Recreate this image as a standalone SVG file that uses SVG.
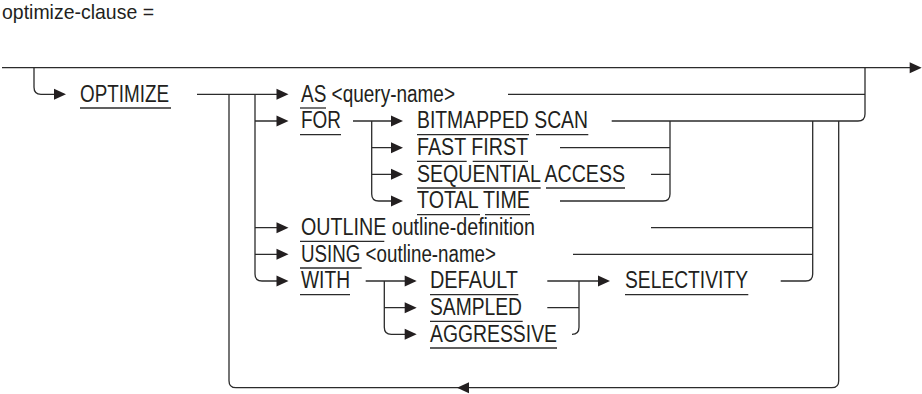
<svg xmlns="http://www.w3.org/2000/svg" width="922" height="394" viewBox="0 0 922 394">
<style>
.t{font-family:"Liberation Sans",Arial,Helvetica,sans-serif;font-size:23px;fill:#231f20}
.ttl{font-family:"Liberation Sans",Arial,Helvetica,sans-serif;font-size:21px;fill:#231f20}
.c{fill:none;stroke:#2b2b2b;stroke-width:1.3}
.u{stroke:#2b2b2b;stroke-width:1.3}
.ah{fill:#231f20}
</style>
<defs>
<path id="ar" d="M-12,-5.5 L0,0 L-12,5.5 z"/>
</defs>
<rect width="922" height="394" fill="#fff"/>
<g id="title"><text class="ttl" x="2" y="19" textLength="152" lengthAdjust="spacingAndGlyphs">optimize-clause =</text></g>

<g id="connectors">
<path class="c" d="M2,67.7 H910"/>
<path class="c" d="M34,67.7 V87.3 Q34,94.3 41,94.3 H64"/>
<path class="c" d="M197,94.3 H286"/>
<path class="c" d="M229,94.3 V380.7 Q229,387.7 236,387.7 H831.7 Q838.7,387.7 838.7,380.7 V121"/>
<path class="c" d="M255,94.3 V274 Q255,281 262,281 H286"/>
<path class="c" d="M255,121 H286 M255,227.7 H286 M255,254.3 H286"/>
<path class="c" d="M508,94.3 H865"/>
<path class="c" d="M353,121 H401"/>
<path class="c" d="M371.7,121 V194 Q371.7,201 378.7,201 H401 M371.7,147.7 H401 M371.7,174.3 H401"/>
<path class="c" d="M611.7,121 H858 Q865,121 865,114 V67.7"/>
<path class="c" d="M560,147.7 H670 M651,174.3 H670"/>
<path class="c" d="M560,201 H663 Q670,201 670,194 V121"/>
<path class="c" d="M651,227.7 H812.7 M573,254.3 H812.7"/>
<path class="c" d="M780.7,281 H805.7 Q812.7,281 812.7,274 V121"/>
<path class="c" d="M365.7,281 H414.7"/>
<path class="c" d="M384.3,281 V327.3 Q384.3,334.3 391.3,334.3 H414.7 M384.3,307.7 H414.7"/>
<path class="c" d="M547.3,281 H608"/>
<path class="c" d="M579,281 V327.3 Q579,334.3 572,334.3 M547.3,307.7 H579"/>
<use href="#ar" class="ah" transform="translate(921.7,67.7)"/>
<use href="#ar" class="ah" transform="translate(66,94.3)"/>
<use href="#ar" class="ah" transform="translate(288.5,94.3)"/>
<use href="#ar" class="ah" transform="translate(288.5,121)"/>
<use href="#ar" class="ah" transform="translate(288.5,227.7)"/>
<use href="#ar" class="ah" transform="translate(288.5,254.3)"/>
<use href="#ar" class="ah" transform="translate(288.5,281)"/>
<use href="#ar" class="ah" transform="translate(403,121)"/>
<use href="#ar" class="ah" transform="translate(403,147.7)"/>
<use href="#ar" class="ah" transform="translate(403,174.3)"/>
<use href="#ar" class="ah" transform="translate(403,201)"/>
<use href="#ar" class="ah" transform="translate(416.7,281)"/>
<use href="#ar" class="ah" transform="translate(416.7,307.7)"/>
<use href="#ar" class="ah" transform="translate(416.7,334.3)"/>
<use href="#ar" class="ah" transform="translate(610,281)"/>
<use href="#ar" class="ah" transform="translate(457,387.7) rotate(180)"/>
</g>

<g id="optimize"><text class="t" x="80" y="101.5" textLength="89" lengthAdjust="spacingAndGlyphs">OPTIMIZE</text><line class="u" x1="80" y1="108" x2="171" y2="108"/></g>
<g id="as"><text class="t" x="301" y="101.5" textLength="154" lengthAdjust="spacingAndGlyphs">AS &lt;query-name&gt;</text><line class="u" x1="300" y1="108" x2="326" y2="108"/></g>
<g id="for"><text class="t" x="301" y="128.2" textLength="40" lengthAdjust="spacingAndGlyphs">FOR</text><line class="u" x1="300" y1="134.7" x2="341" y2="134.7"/></g>
<g id="bitmapped"><text class="t" x="417" y="128.2" textLength="171" lengthAdjust="spacingAndGlyphs">BITMAPPED SCAN</text><line class="u" x1="417" y1="134.7" x2="529" y2="134.7"/><line class="u" x1="536" y1="134.7" x2="588.3" y2="134.7"/></g>
<g id="fastfirst"><text class="t" x="417" y="154.9" textLength="111" lengthAdjust="spacingAndGlyphs">FAST FIRST</text><line class="u" x1="417" y1="161.4" x2="466.7" y2="161.4"/><line class="u" x1="472.7" y1="161.4" x2="528" y2="161.4"/></g>
<g id="sequential"><text class="t" x="417" y="181.5" textLength="208" lengthAdjust="spacingAndGlyphs">SEQUENTIAL ACCESS</text><line class="u" x1="417" y1="188" x2="540.7" y2="188"/><line class="u" x1="546" y1="188" x2="625" y2="188"/></g>
<g id="totaltime"><text class="t" x="417" y="208.2" textLength="113" lengthAdjust="spacingAndGlyphs">TOTAL TIME</text><line class="u" x1="417" y1="214.7" x2="480" y2="214.7"/><line class="u" x1="485" y1="214.7" x2="530" y2="214.7"/></g>
<g id="outline"><text class="t" x="301" y="234.9" textLength="234" lengthAdjust="spacingAndGlyphs">OUTLINE outline-definition</text><line class="u" x1="300" y1="241.4" x2="384.3" y2="241.4"/></g>
<g id="using"><text class="t" x="301" y="261.5" textLength="195" lengthAdjust="spacingAndGlyphs">USING &lt;outline-name&gt;</text><line class="u" x1="300" y1="268" x2="361.7" y2="268"/></g>
<g id="with"><text class="t" x="301" y="288.2" textLength="49" lengthAdjust="spacingAndGlyphs">WITH</text><line class="u" x1="300" y1="294.7" x2="350" y2="294.7"/></g>
<g id="default"><text class="t" x="430" y="288.2" textLength="88" lengthAdjust="spacingAndGlyphs">DEFAULT</text><line class="u" x1="430" y1="294.7" x2="518.3" y2="294.7"/></g>
<g id="sampled"><text class="t" x="430" y="314.9" textLength="92" lengthAdjust="spacingAndGlyphs">SAMPLED</text><line class="u" x1="430" y1="321.4" x2="522.7" y2="321.4"/></g>
<g id="aggressive"><text class="t" x="430" y="341.5" textLength="127" lengthAdjust="spacingAndGlyphs">AGGRESSIVE</text><line class="u" x1="430" y1="348" x2="557" y2="348"/></g>
<g id="selectivity"><text class="t" x="625" y="288.2" textLength="123" lengthAdjust="spacingAndGlyphs">SELECTIVITY</text><line class="u" x1="625" y1="294.7" x2="748.3" y2="294.7"/></g>
</svg>
